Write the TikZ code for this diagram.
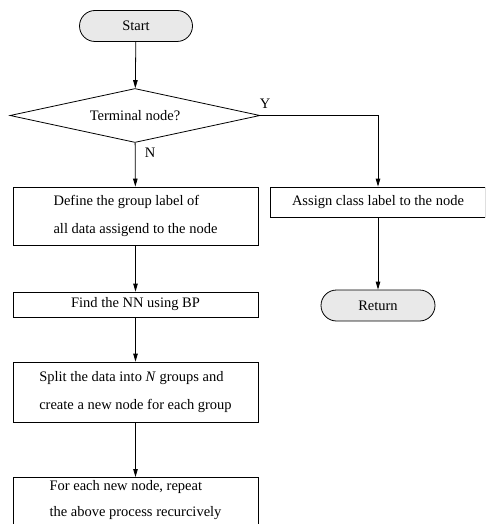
\documentclass[tikz,border=0pt]{standalone}
\usepackage{fontspec}
\setmainfont{Liberation Serif}
\usetikzlibrary{shapes.geometric,arrows.meta}
\begin{document}
\begin{tikzpicture}[x=1pt,y=-1pt,
  font=\fontsize{14.5}{28}\selectfont,
  line width=0.8pt,
  term/.style={draw, fill=gray!17, rounded corners=15.5pt, minimum width=113pt, minimum height=31pt, inner sep=0pt},
  proc/.style={draw, rectangle, minimum width=245pt, inner sep=0pt, align=left},
  arr/.style={draw, -{Triangle[length=8pt,width=4.5pt]}}
]
\useasboundingbox (0,0) rectangle (485,524);
\clip (0,0) rectangle (485,524);
\node[term] (start) at (136,26) {Start};
\node[diamond, draw, minimum width=250pt, minimum height=54pt, inner sep=0pt, aspect=4.6] (test) at (135,115.5) {Terminal node?};
\node[proc, minimum height=58pt] (define) at (135.5,216) {Define the group label of\\all data assigend to the node};
\node[proc, minimum height=25pt] (find) at (135.5,304.5) {Find the NN using BP};
\node[proc, minimum height=60pt] (split) at (135.5,392) {Split the data into \textit{N} groups and\\create a new node for each group};
\node[proc, anchor=north, inner ysep=3pt, text depth=14pt, font=\fontsize{14.5}{26}\selectfont] (each) at (135.5,477) {For each new node, repeat\\the above process recurcively};
\node[proc, minimum width=215pt, minimum height=30pt] (assign) at (378,202) {Assign class label to the node};
\node[term, minimum width=114pt] (ret) at (378,305.5) {Return};
\node (ylab) at (265,104) {Y};
\node (nlab) at (150,153) {N};
\draw[arr] (start) -- (test);
\draw[arr] (test) -- (define);
\draw[arr] (define) -- (find);
\draw[arr] (find) -- (split);
\draw[arr] (split) -- (each);
\draw[arr] (test.east) -| (assign.north);
\draw[arr] (assign) -- (ret);
\end{tikzpicture}
\end{document}
